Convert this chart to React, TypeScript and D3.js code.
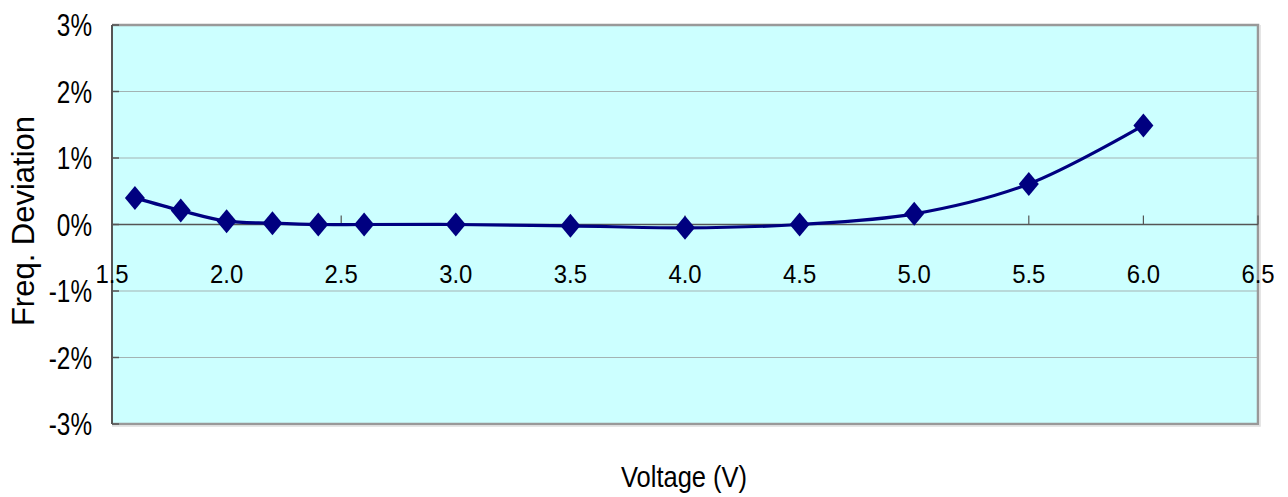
import * as d3 from "d3";

const voltages = [1.6, 1.8, 2.0, 2.2, 2.4, 2.6, 3.0, 3.5, 4.0, 4.5, 5.0, 5.5, 6.0];
const deviation = [0.4, 0.21, 0.05, 0.02, 0.0, 0.0, 0.0, -0.02, -0.05, 0.0, 0.16, 0.61, 1.49];
const xTicks = [1.5, 2.0, 2.5, 3.0, 3.5, 4.0, 4.5, 5.0, 5.5, 6.0, 6.5];
const yTicks = [-3, -2, -1, 0, 1, 2, 3];

type Point = { v: number; d: number };

export default function App() {
  const width = 1288;
  const height = 497;
  const margin = { top: 25, right: 30, bottom: 73, left: 112 };

  const data: Point[] = voltages.map((v, i) => ({ v, d: deviation[i] }));

  const x = d3.scaleLinear().domain([1.5, 6.5]).range([margin.left, width - margin.right]);
  const y = d3.scaleLinear().domain([-3, 3]).range([height - margin.bottom, margin.top]);

  const line = d3
    .line<Point>()
    .x((p) => x(p.v))
    .y((p) => y(p.d))
    .curve(d3.curveCatmullRom.alpha(0.5));

  const diamond = "M0,-12L10,0L0,12L-10,0Z";
  const font = "'Liberation Sans', Arial, sans-serif";

  return (
    <svg
      width={width}
      height={height}
      style={{ position: "absolute", left: 0, top: 0, background: "#fff" }}
    >
      <rect
        x={x(1.5)}
        y={y(3)}
        width={x(6.5) - x(1.5)}
        height={y(-3) - y(3)}
        fill="#ccffff"
      />
      {yTicks.map((t) => (
        <line
          key={"g" + t}
          x1={x(1.5)}
          x2={x(6.5)}
          y1={y(t)}
          y2={y(t)}
          stroke="#a3b3b3"
          strokeWidth={1.2}
        />
      ))}
      {/* frame: gray top/right/bottom */}
      <path
        d={`M${x(1.5)},${y(3)}H${x(6.5)}V${y(-3)}H${x(1.5)}`}
        fill="none"
        stroke="#999"
        strokeWidth={2.5}
      />
      <path
        d={`M${x(6.5) + 2},${y(3)}V${y(-3) + 2}H${x(1.5)}`}
        fill="none"
        stroke="#ddd"
        strokeWidth={1.5}
      />
      {/* left axis */}
      <line x1={x(1.5)} x2={x(1.5)} y1={y(3)} y2={y(-3)} stroke="#555" strokeWidth={2} />
      {yTicks.map((t) => (
        <line
          key={"yt" + t}
          x1={x(1.5)}
          x2={x(1.5) + 7}
          y1={y(t)}
          y2={y(t)}
          stroke="#555"
          strokeWidth={1.5}
        />
      ))}
      {/* x axis at 0 */}
      <line x1={x(1.5)} x2={x(6.5)} y1={y(0)} y2={y(0)} stroke="#555" strokeWidth={1.5} />
      {xTicks.map((t) => (
        <line
          key={"xt" + t}
          x1={x(t)}
          x2={x(t)}
          y1={y(0)}
          y2={y(0) - 9}
          stroke="#555"
          strokeWidth={1.2}
        />
      ))}
      <path d={line(data) ?? undefined} fill="none" stroke="#000080" strokeWidth={3.2} />
      {data.map((p) => (
        <path
          key={"m" + p.v}
          d={diamond}
          transform={`translate(${x(p.v)},${y(p.d)})`}
          fill="#000080"
        />
      ))}
      {xTicks.map((t) => (
        <text
          key={"xl" + t}
          transform={`translate(${x(t)},${y(0) + 58}) scale(0.92,1)`}
          textAnchor="middle"
          fontFamily={font}
          fontSize={26}
          fill="#000"
        >
          {t.toFixed(1)}
        </text>
      ))}
      {yTicks.map((t) => (
        <text
          key={"yl" + t}
          transform={`translate(${x(1.5) - 20},${y(t) + 11}) scale(0.76,1)`}
          textAnchor="end"
          fontFamily={font}
          fontSize={32}
          fill="#000"
        >
          {t + "%"}
        </text>
      ))}
      <text
        transform={`translate(684,487) scale(0.85,1)`}
        textAnchor="middle"
        fontFamily={font}
        fontSize={30}
        fill="#000"
      >
        Voltage (V)
      </text>
      <text
        transform={`translate(34,221) rotate(-90)`}
        textAnchor="middle"
        fontFamily={font}
        fontSize={31}
        fill="#000"
      >
        Freq. Deviation
      </text>
    </svg>
  );
}
